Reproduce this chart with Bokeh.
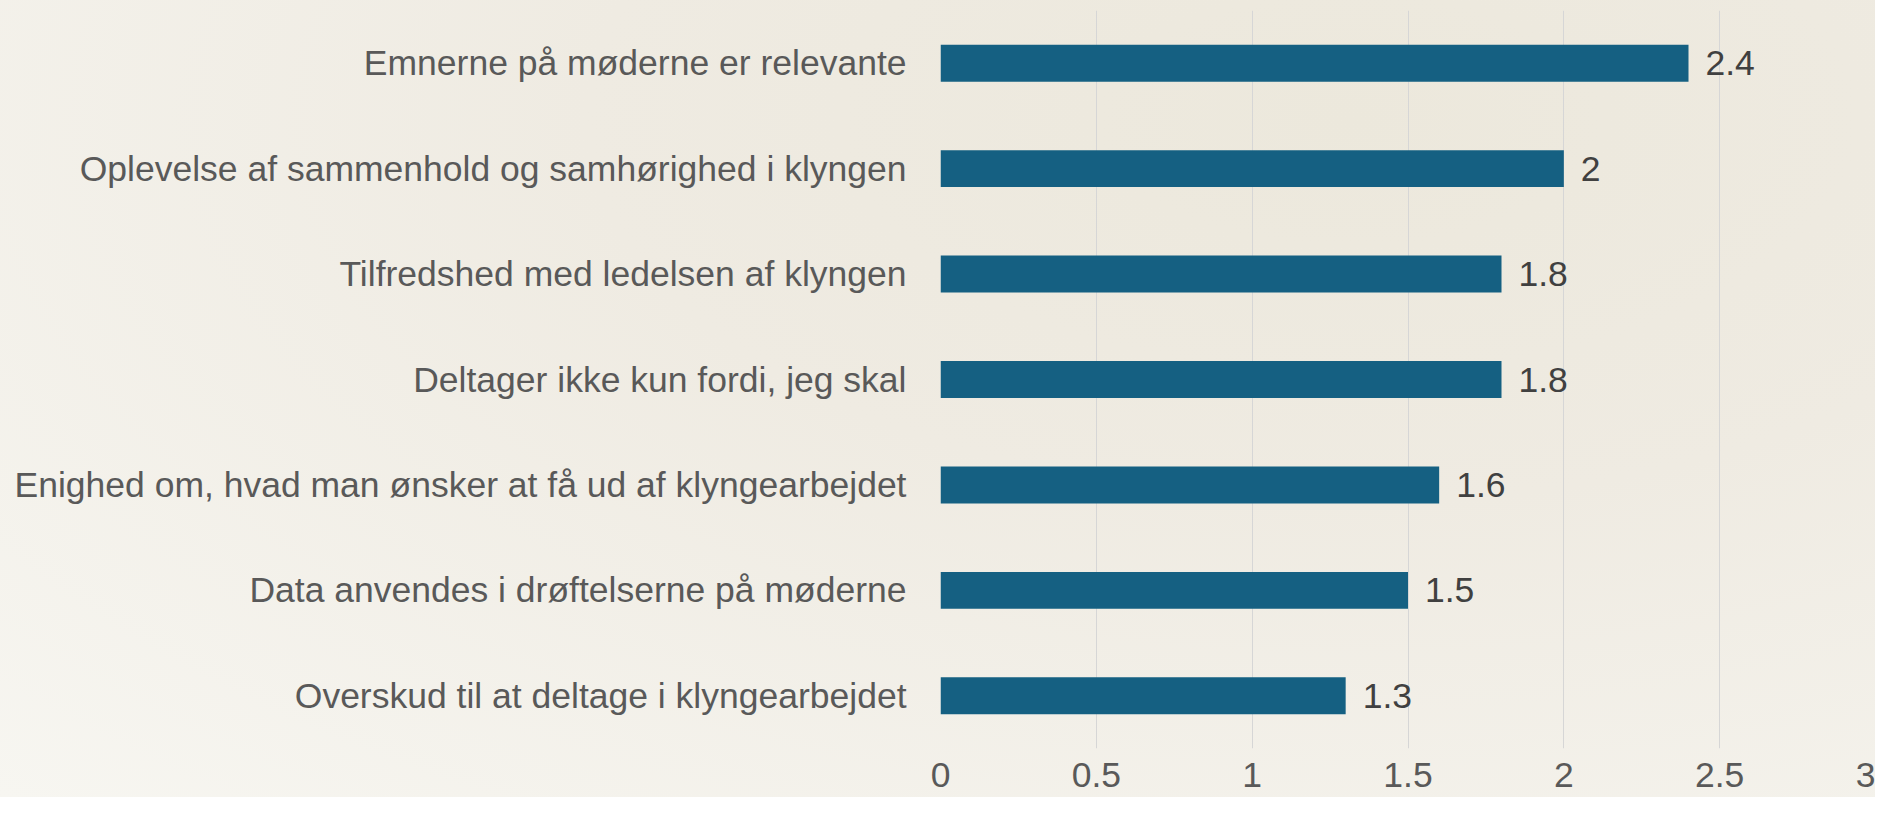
from bokeh.plotting import figure
from bokeh.models import ColumnDataSource, FactorRange, SingleIntervalTicker, Range1d
from bokeh.core.properties import value
from bokeh.embed import file_html
from bokeh.resources import INLINE

categories = [
    "Emnerne på møderne er relevante",
    "Oplevelse af sammenhold og samhørighed i klyngen",
    "Tilfredshed med ledelsen af klyngen",
    "Deltager ikke kun fordi, jeg skal",
    "Enighed om, hvad man ønsker at få ud af klyngearbejdet",
    "Data anvendes i drøftelserne på møderne",
    "Overskud til at deltage i klyngearbejdet",
]
values = [2.4, 2.0, 1.8, 1.8, 1.6, 1.5, 1.3]
value_labels = ["2.4", "2", "1.8", "1.8", "1.6", "1.5", "1.3"]

FONT = "Liberation Sans"
FS = "35.5px"

src = ColumnDataSource(dict(cat=categories, val=values, lab=value_labels))

p = figure(
    width=1875, height=797,
    y_range=FactorRange(factors=categories[::-1]),
    x_range=Range1d(0, 3),
    output_backend="svg", toolbar_location=None,
    min_border_left=940, min_border_right=0, min_border_top=10, min_border_bottom=49,
)
p.border_fill_color = None
p.background_fill_color = None
p.outline_line_color = None
p.styles = {"background": "radial-gradient(ellipse at 72% 15%, #ece8dc 0%, #efebe2 40%, #f7f6f1 100%)"}

p.hbar(y="cat", right="val", left=0, height=0.35, source=src,
       fill_color="#156082", line_color=None)

p.text(x="val", y="cat", text="lab", source=src, x_offset=17,
       text_baseline="middle", text_align="left",
       text_font=value(FONT), text_font_size=FS, text_color="#404040")

p.xaxis.ticker = SingleIntervalTicker(interval=0.5)
p.xaxis.axis_line_color = None
p.xaxis.major_tick_line_color = None
p.xaxis.minor_tick_line_color = None
p.xaxis.major_label_text_font = FONT
p.xaxis.major_label_text_font_size = FS
p.xaxis.major_label_text_color = "#595959"
p.xaxis.major_label_standoff = 8

p.yaxis.axis_line_color = None
p.yaxis.major_tick_line_color = None
p.yaxis.minor_tick_line_color = None
p.yaxis.major_label_text_font = FONT
p.yaxis.major_label_text_font_size = FS
p.yaxis.major_label_text_color = "#595959"
p.yaxis.major_label_standoff = 28

p.ygrid.grid_line_color = None
p.xgrid.grid_line_color = "#d6d6d6"
p.xgrid.grid_line_width = 1

open("out.html", "w").write(file_html(p, INLINE))
